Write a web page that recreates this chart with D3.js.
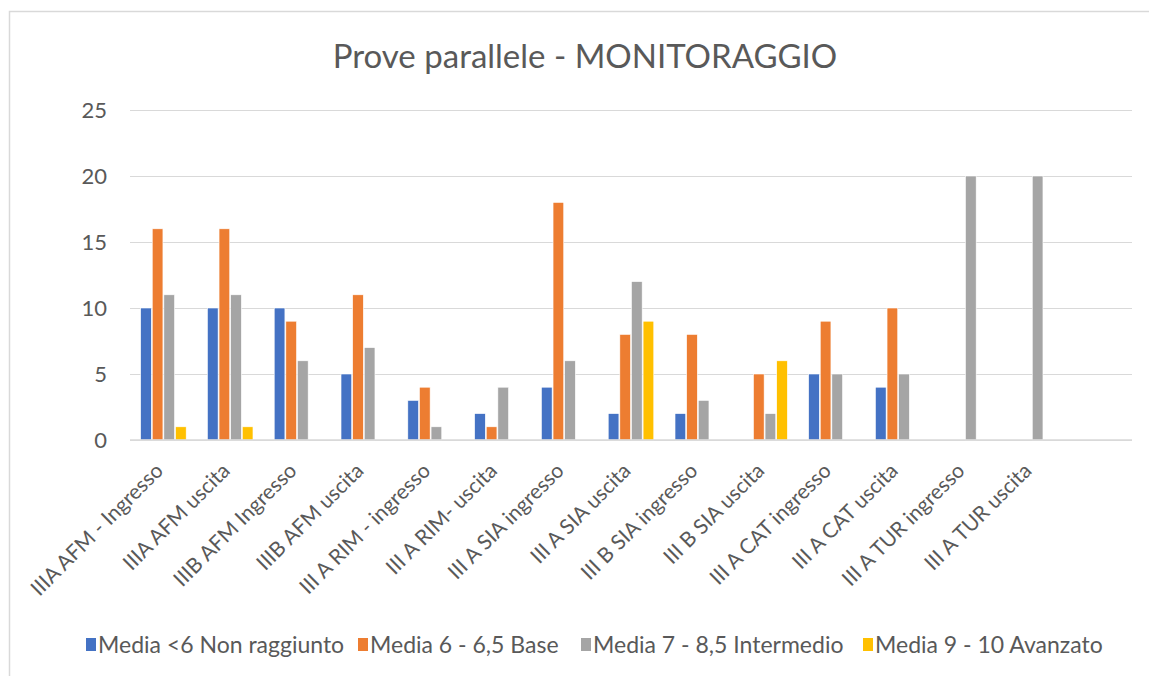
<!DOCTYPE html>
<meta charset="utf-8">
<title>Prove parallele - MONITORAGGIO</title>
<style>
  body { margin: 0; background: #fff; }
  svg text { font-family: Lato, "Open Sans", sans-serif; fill: #595959; }
</style>
<div id="viz"></div>
<script src="https://cdnjs.cloudflare.com/ajax/libs/d3/7.8.5/d3.min.js"></script>
<script>

var categories = [
  "IIIA AFM - Ingresso", "IIIA AFM uscita", "IIIB AFM Ingresso", "IIIB AFM uscita",
  "III A RIM - ingresso", "III A RIM- uscita", "III A SIA ingresso", "III A SIA uscita",
  "III B SIA ingresso", "III B SIA uscita", "III A CAT ingresso", "III A CAT uscita",
  "III A TUR ingresso", "III A TUR uscita", ""
];
var seriesNames = [
  "Media <6 Non raggiunto", "Media 6 - 6,5 Base",
  "Media 7 - 8,5 Intermedio", "Media 9 - 10 Avanzato"
];
var nonRaggiunto = [10, 10, 10, 5, 3, 2, 4, 2, 2, null, 5, 4, null, null, null];
var base         = [16, 16, 9, 11, 4, 1, 18, 8, 8, 5, 9, 10, null, null, null];
var intermedio   = [11, 11, 6, 7, 1, 4, 6, 12, 3, 2, 5, 5, 20, 20, null];
var avanzato     = [1, 1, null, null, null, null, null, 9, null, 6, null, null, null, null, null];
var yTicks = [0, 5, 10, 15, 20, 25];
var colors = ["#4472C4", "#ED7D31", "#A5A5A5", "#FFC000"];

var series = [nonRaggiunto, base, intermedio, avanzato];

var width = 1149;
var height = 676;
var margin = {left: 130, right: 17, top: 110, bottom: 236};

var svg = d3.select("#viz")
  .append("svg")
  .attr("width", width)
  .attr("height", height);

// chart frame
svg.append("rect")
  .attr("x", 9.5).attr("y", 11.5)
  .attr("width", 1200).attr("height", 800)
  .attr("fill", "none")
  .attr("stroke", "#d9d9d9")
  .attr("stroke-width", 1.5);

svg.append("text")
  .attr("x", 585)
  .attr("y", 68)
  .attr("text-anchor", "middle")
  .style("font-size", "33px")
  .text("Prove parallele - MONITORAGGIO");

var x0 = d3.scaleBand()
  .domain(d3.range(categories.length))
  .range([margin.left, width - margin.right])
  .paddingInner(0.29)
  .paddingOuter(0.145);

var x1 = d3.scaleBand()
  .domain(d3.range(series.length))
  .range([0, x0.bandwidth()])
  .padding(0.08);

var y = d3.scaleLinear()
  .domain([0, 25])
  .range([height - margin.bottom, margin.top]);

// grid
var grid = svg.append("g")
  .attr("transform", "translate(" + margin.left + ",0)")
  .call(d3.axisLeft(y).tickValues(yTicks).tickSize(-(width - margin.left - margin.right)).tickFormat(""));
grid.select(".domain").remove();
grid.selectAll("line").attr("stroke", "#d9d9d9").attr("stroke-width", 1);

// y labels
var yAxis = svg.append("g")
  .attr("transform", "translate(" + (margin.left - 23) + ",0)")
  .call(d3.axisLeft(y).tickValues(yTicks).tickSize(0).tickPadding(0));
yAxis.select(".domain").remove();
yAxis.selectAll("text")
  .style("font-size", "22px")
  .attr("fill", "#595959");

// bars
var groups = svg.append("g").selectAll("g")
  .data(categories)
  .join("g")
  .attr("transform", function(d, i) { return "translate(" + x0(i) + ",0)"; });

groups.selectAll("rect")
  .data(function(d, i) {
    return series.map(function(s, k) { return {k: k, v: s[i]}; });
  })
  .join("rect")
  .filter(function(d) { return d.v != null && d.v > 0; })
  .attr("x", function(d) { return x1(d.k); })
  .attr("y", function(d) { return y(d.v); })
  .attr("width", x1.bandwidth())
  .attr("height", function(d) { return y(0) - y(d.v); })
  .attr("fill", function(d) { return colors[d.k]; })
  .attr("stroke", "#fff")
  .attr("stroke-width", 0.6);

// base line
svg.append("line")
  .attr("x1", margin.left).attr("x2", width - margin.right)
  .attr("y1", y(0)).attr("y2", y(0))
  .attr("stroke", "#d9d9d9")
  .attr("stroke-width", 1.5);

// x labels
var xAxis = svg.append("g")
  .attr("transform", "translate(0," + y(0) + ")")
  .call(d3.axisBottom(x0).tickSize(0).tickFormat(function(i) { return categories[i]; }));
xAxis.select(".domain").remove();
xAxis.selectAll("text")
  .style("font-size", "21px")
  .attr("fill", "#595959")
  .attr("text-anchor", "end")
  .attr("dy", null)
  .attr("y", 0)
  .attr("transform", "translate(1,32) rotate(-45)");

// legend
var legendX = [86, 358, 581, 863];
var legend = svg.append("g").selectAll("g")
  .data(seriesNames)
  .join("g")
  .attr("transform", function(d, i) { return "translate(" + legendX[i] + ",645)"; });
legend.append("rect")
  .attr("x", 0).attr("y", -7)
  .attr("width", 10).attr("height", 13)
  .attr("fill", function(d, i) { return colors[i]; });
legend.append("text")
  .attr("x", 12)
  .attr("y", 8)
  .style("font-size", "23px")
  .text(function(d) { return d; });

</script>
